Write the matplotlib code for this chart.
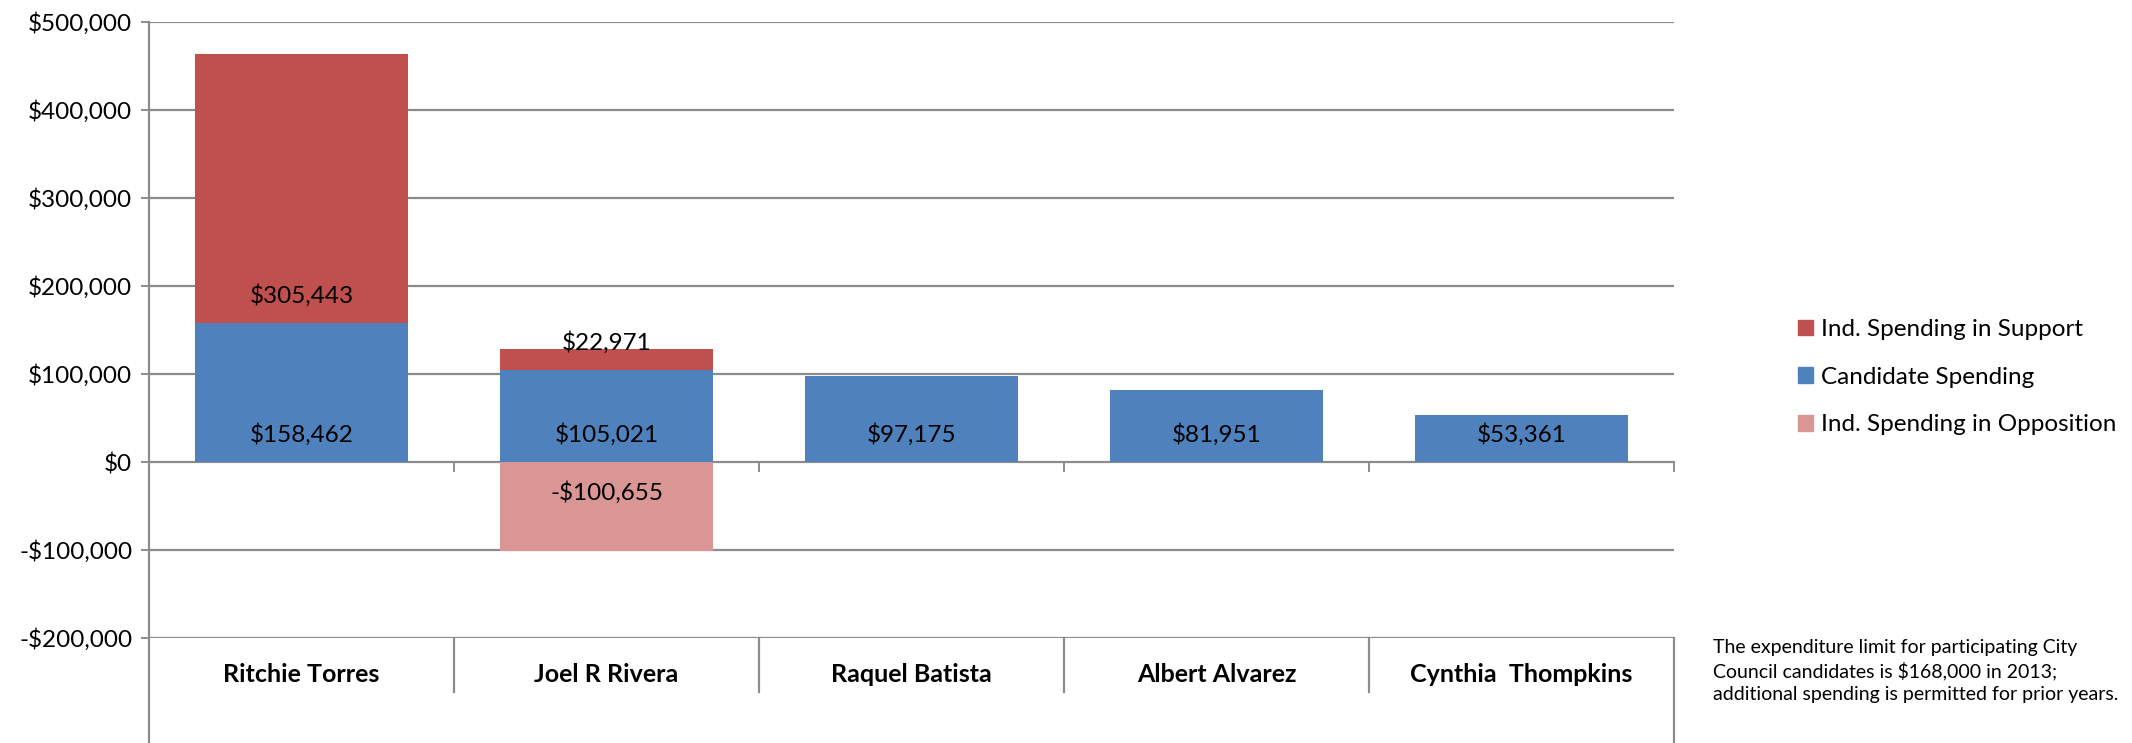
import numpy as np
import matplotlib
matplotlib.use("Agg")
import matplotlib.pyplot as plt
import matplotlib.transforms as mtransforms
from matplotlib.lines import Line2D
from matplotlib.patches import Patch

plt.rcParams['font.family'] = ['Lato', 'DejaVu Sans']

# data
candidates = ["Ritchie Torres", "Joel R Rivera", "Raquel Batista", "Albert Alvarez", "Cynthia  Thompkins"]
candidate_spending = [158462, 105021, 97175, 81951, 53361]
ind_support = [305443, 22971, 0, 0, 0]
ind_opposition = [0, -100655, 0, 0, 0]
yticks = [-200000, -100000, 0, 100000, 200000, 300000, 400000, 500000]
note = ("The expenditure limit for participating City\n"
        "Council candidates is $168,000 in 2013;\n"
        "additional spending is permitted for prior years.")

RED = "#C0504D"
BLUE = "#4F81BD"
PINK = "#D99694"
GRID = "#8C8C8C"

W, H = 2132, 743
fig = plt.figure(figsize=(W / 100, H / 100), dpi=100)
ax_left, ax_right = 149 / W, 1674 / W
ax_bottom, ax_top = (H - 638) / H, (H - 22) / H
ax = fig.add_axes([ax_left, ax_bottom, ax_right - ax_left, ax_top - ax_bottom])

x = np.arange(len(candidates))
width = 0.70
b_cand = ax.bar(x, candidate_spending, width, color=BLUE, zorder=3)
b_sup = ax.bar(x, ind_support, width, bottom=candidate_spending, color=RED, zorder=3)
b_opp = ax.bar(x, ind_opposition, width, color=PINK, zorder=3)

ax.set_xlim(-0.5, len(candidates) - 0.5)
ax.set_ylim(-200000, 500000)
ax.set_yticks(yticks)
ax.set_yticklabels([("-$" if v < 0 else "$") + f"{abs(v):,}" for v in yticks], fontsize=17.5)
ax.tick_params(axis='y', length=6, width=1.4, color=GRID, pad=6)
ax.set_xticks([])
for s in ax.spines.values():
    s.set_visible(False)
for v in yticks:
    ax.axhline(v, color=GRID, lw=1.6, zorder=1)

# left axis line runs down through the category band
px = 1 / (ax_top - ax_bottom) / H  # one pixel in axes-y units
band_bottom = -105 * px
ax.add_line(Line2D([0, 0], [1, band_bottom], transform=ax.transAxes, color=GRID, lw=1.6, clip_on=False, zorder=4))

trans = mtransforms.blended_transform_factory(ax.transData, ax.transAxes)
y0 = (0 - (-200000)) / 700000
for b in np.arange(0.5, len(candidates) - 0.4, 1.0):
    # little ticks under the zero line
    ax.add_line(Line2D([b, b], [y0, y0 - 9 * px], transform=trans, color=GRID, lw=1.4, clip_on=False))
    # dividers in the category band
    end = band_bottom if b == len(candidates) - 0.5 else -54 * px
    ax.add_line(Line2D([b, b], [0, end], transform=trans, color=GRID, lw=1.6, clip_on=False))

for i, name in enumerate(candidates):
    ax.text(i, -37 * px, name, transform=trans, ha='center', va='center',
            fontsize=18, fontweight='bold')

# data labels, placed just inside the base of each segment (Excel "inside base")
def label(xpos, base, value, up=True):
    ax.annotate(("-$" if value < 0 else "$") + f"{abs(value):,}", (xpos, base),
                xytext=(0, 27 if up else -31), textcoords='offset pixels',
                ha='center', va='center', fontsize=17.5, zorder=5)

for i in range(len(candidates)):
    label(i, 0, candidate_spending[i])
    if ind_support[i]:
        label(i, candidate_spending[i], ind_support[i])
    if ind_opposition[i]:
        label(i, 0, ind_opposition[i], up=False)

handles = [Patch(color=RED), Patch(color=BLUE), Patch(color=PINK)]
labels = ["Ind. Spending in Support", "Candidate Spending", "Ind. Spending in Opposition"]
fig.legend(handles, labels, loc='upper left', bbox_to_anchor=(1798 / W, (H - 319) / H),
           frameon=False, fontsize=17.5, handlelength=0.6, handleheight=0.6,
           handletextpad=0.35, labelspacing=1.1, borderpad=0, borderaxespad=0)

fig.text(1713 / W, (H - 671) / H, note, ha='left', va='center', fontsize=14, linespacing=1.4)

fig.savefig("out.png", dpi=100)
